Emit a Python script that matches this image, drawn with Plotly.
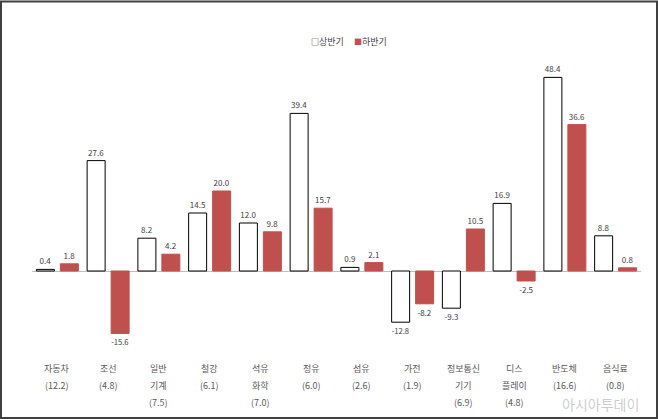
import plotly.graph_objects as go

categories = ["자동차", "조선", "일반 기계", "철강", "석유 화학", "정유", "섬유", "가전", "정보통신 기기", "디스 플레이", "반도체", "음식료"]
label_lines = [["자동차", "(12.2)"], ["조선", "(4.8)"], ["일반", "기계", "(7.5)"], ["철강", "(6.1)"],
               ["석유", "화학", "(7.0)"], ["정유", "(6.0)"], ["섬유", "(2.6)"], ["가전", "(1.9)"],
               ["정보통신", "기기", "(6.9)"], ["디스", "플레이", "(4.8)"], ["반도체", "(16.6)"], ["음식료", "(0.8)"]]
first_half = [0.4, 27.6, 8.2, 14.5, 12.0, 39.4, 0.9, -12.8, -9.3, 16.9, 48.4, 8.8]
second_half = [1.8, -15.6, 4.2, 20.0, 9.8, 15.7, 2.1, -8.2, 10.5, -2.5, 36.6, 0.8]
series_names = ["상반기", "하반기"]

W, H = 658, 419
ml, mr, mt, mb = 32, 17, 71, 68
ph = H - mt - mb
pw = W - ml - mr
FONT = "Noto Sans CJK KR"
RED = "#C0504D"

fig = go.Figure()
fig.add_trace(go.Bar(x=categories, y=first_half, name=series_names[0],
                     marker=dict(color="white", line=dict(color="black", width=1)),
                     text=[f"{v:.1f}" for v in first_half], textposition="outside",
                     textfont=dict(size=8, color="#404040"), cliponaxis=False))
fig.add_trace(go.Bar(x=categories, y=second_half, name=series_names[1],
                     marker=dict(color=RED, line=dict(color=RED, width=1)),
                     text=[f"{v:.1f}" for v in second_half], textposition="outside",
                     textfont=dict(size=8, color="#404040"), cliponaxis=False))

annotations = []
for cat, lines in zip(categories, label_lines):
    for i, ln in enumerate(lines):
        annotations.append(dict(x=cat, xref="x", yref="paper",
                                y=-(368 + 17 * i - (mt + ph)) / ph, text=ln,
                                showarrow=False, yanchor="middle",
                                font=dict(size=9, color="#595959", family=FONT)))

# legend drawn as a compact text line like the original
legend_text = (f"<span style='color:black;font-size:8px'>□</span>{series_names[0]}"
               f"&nbsp;&nbsp;&nbsp;&nbsp;&nbsp;<span style='color:{RED};font-size:8px'>■</span>{series_names[1]}")
annotations.append(dict(x=(349 - ml) / pw, y=1 + (mt - 42) / ph, xref="paper", yref="paper",
                        text=legend_text, showarrow=False, xanchor="center", yanchor="middle",
                        font=dict(size=9, color="#404040", family=FONT)))

# watermark
annotations.append(dict(x=(600 - ml) / pw, y=-(404 - (mt + ph)) / ph, xref="paper", yref="paper",
                        text="아시아투데이", showarrow=False, xanchor="center", yanchor="middle",
                        font=dict(size=14, color="rgba(170,170,170,0.6)", family=FONT)))

fig.update_layout(
    width=W, height=H,
    margin=dict(l=ml, r=mr, t=mt, b=mb),
    paper_bgcolor="white", plot_bgcolor="white",
    barmode="group", bargap=0.055, bargroupgap=0.25,
    font=dict(family=FONT, color="#404040"),
    showlegend=False,
    xaxis=dict(showticklabels=False, showgrid=False, zeroline=False, showline=False, ticks=""),
    yaxis=dict(range=[-20, 50], showticklabels=False, showgrid=False, zeroline=True,
               zerolinecolor="#BFBFBF", zerolinewidth=1, showline=False),
    annotations=annotations,
    shapes=[dict(type="rect", xref="paper", yref="paper",
                 x0=-(ml - 1) / pw, x1=1 + (mr - 1) / pw,
                 y0=-(mb - 1) / ph, y1=1 + (mt - 1.5) / ph,
                 line=dict(color="#404040", width=2))],
)

fig.write_html("out.html")
